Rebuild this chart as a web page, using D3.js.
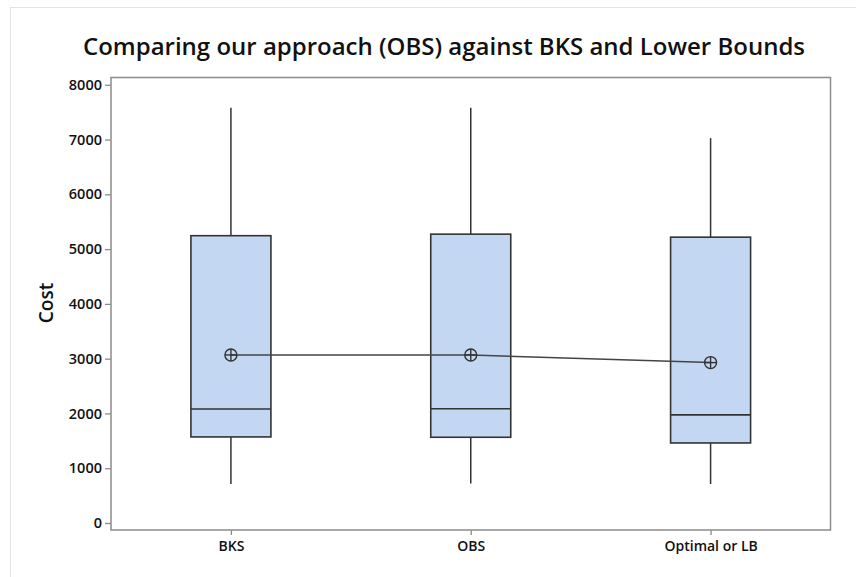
<!DOCTYPE html>
<html>
<head>
<meta charset="utf-8">
<script src="https://cdn.jsdelivr.net/npm/d3@7"></script>
<style>
  body { margin: 0; background: #fff; }
  svg { font-family: "Open Sans", "Noto Sans", sans-serif; }
</style>
</head>
<body>
<div id="container"></div>
<script>
/* DATA */
const categories = ["BKS", "OBS", "Optimal or LB"];
const whiskerLow = [712, 720, 712];
const q1Values = [1571, 1565, 1461];
const medianValues = [2082, 2085, 1973];
const q3Values = [5245, 5273, 5218];
const whiskerHigh = [7580, 7580, 7026];
const meanValues = [3068, 3068, 2928];
const yTicks = [0, 1000, 2000, 3000, 4000, 5000, 6000, 7000, 8000];

const data = categories.map((c, i) => ({
  name: c,
  lo: whiskerLow[i],
  q1: q1Values[i],
  med: medianValues[i],
  q3: q3Values[i],
  hi: whiskerHigh[i],
  mean: meanValues[i]
}));

/* LAYOUT */
const W = 856, H = 577;
const plot = { left: 111, right: 830.5, top: 77.5, bottom: 530 };

const svg = d3.select('#container')
  .append('svg')
  .attr('width', W)
  .attr('height', H);

// outer frame (only top and left edges show)
svg.append('rect')
  .attr('x', 10.5).attr('y', 7.5)
  .attr('width', W).attr('height', H)
  .attr('fill', '#fff')
  .attr('stroke', '#e3e3e3');

const xScale = d3.scalePoint()
  .domain(categories)
  .range([plot.left, plot.right])
  .padding(0.5);

const yScale = d3.scaleLinear()
  .domain([-128, 8133])
  .range([plot.bottom, plot.top]);

const boxW = 80;
const dark = '#333';

// plot frame
svg.append('rect')
  .attr('x', plot.left).attr('y', plot.top)
  .attr('width', plot.right - plot.left)
  .attr('height', plot.bottom - plot.top)
  .attr('fill', '#fff')
  .attr('stroke', '#8c8c8c')
  .attr('stroke-width', 1.5);

// axes
const yAxis = svg.append('g')
  .attr('transform', `translate(${plot.left},0)`)
  .call(d3.axisLeft(yScale).tickValues(yTicks).tickSize(6).tickPadding(3).tickFormat(d3.format('d')));
yAxis.select('.domain').remove();
yAxis.selectAll('line').attr('stroke', '#8c8c8c').attr('stroke-width', 1.3);
yAxis.selectAll('text')
  .attr('fill', '#111')
  .attr('font-size', '14.5px')
  .attr('font-weight', 600)
  .attr('font-family', '"Open Sans", sans-serif');

const xAxis = svg.append('g')
  .attr('transform', `translate(0,${plot.bottom})`)
  .call(d3.axisBottom(xScale).tickSize(5).tickPadding(6));
xAxis.select('.domain').remove();
xAxis.selectAll('line').attr('stroke', '#8c8c8c').attr('stroke-width', 1.3);
xAxis.selectAll('text')
  .attr('fill', '#111')
  .attr('font-size', '14px')
  .attr('font-weight', 600)
  .attr('font-family', '"Open Sans", sans-serif');

// whiskers
const g = svg.append('g');
g.selectAll('line.whisker-hi')
  .data(data)
  .join('line')
  .attr('class', 'whisker-hi')
  .attr('x1', d => xScale(d.name)).attr('x2', d => xScale(d.name))
  .attr('y1', d => yScale(d.q3)).attr('y2', d => yScale(d.hi))
  .attr('stroke', dark).attr('stroke-width', 1.5);

g.selectAll('line.whisker-lo')
  .data(data)
  .join('line')
  .attr('class', 'whisker-lo')
  .attr('x1', d => xScale(d.name)).attr('x2', d => xScale(d.name))
  .attr('y1', d => yScale(d.q1)).attr('y2', d => yScale(d.lo))
  .attr('stroke', dark).attr('stroke-width', 1.5);

// boxes
g.selectAll('rect.box')
  .data(data)
  .join('rect')
  .attr('class', 'box')
  .attr('x', d => xScale(d.name) - boxW / 2)
  .attr('width', boxW)
  .attr('y', d => yScale(d.q3))
  .attr('height', d => yScale(d.q1) - yScale(d.q3))
  .attr('fill', '#c3d6f2')
  .attr('stroke', dark)
  .attr('stroke-width', 1.6);

g.selectAll('line.median')
  .data(data)
  .join('line')
  .attr('class', 'median')
  .attr('x1', d => xScale(d.name) - boxW / 2)
  .attr('x2', d => xScale(d.name) + boxW / 2)
  .attr('y1', d => yScale(d.med)).attr('y2', d => yScale(d.med))
  .attr('stroke', dark).attr('stroke-width', 1.6);

// mean connect line
const meanLine = d3.line()
  .x(d => xScale(d.name))
  .y(d => yScale(d.mean));
g.append('path')
  .datum(data)
  .attr('d', meanLine)
  .attr('fill', 'none')
  .attr('stroke', '#444')
  .attr('stroke-width', 1.5);

// mean symbols (circle with cross)
const r = 6;
const means = g.selectAll('g.mean')
  .data(data)
  .join('g')
  .attr('class', 'mean')
  .attr('transform', d => `translate(${xScale(d.name)},${yScale(d.mean)})`);
means.append('circle')
  .attr('r', r)
  .attr('fill', 'none')
  .attr('stroke', dark)
  .attr('stroke-width', 1.4);
means.append('line')
  .attr('x1', -r).attr('x2', r)
  .attr('stroke', dark).attr('stroke-width', 1.4);
means.append('line')
  .attr('y1', -r).attr('y2', r)
  .attr('stroke', dark).attr('stroke-width', 1.4);

// y-axis label
svg.append('text')
  .attr('transform', `translate(53,303) rotate(-90)`)
  .attr('text-anchor', 'middle')
  .attr('font-size', '19px')
  .attr('font-weight', 600)
  .attr('fill', '#111')
  .text('Cost');

// title
svg.append('text')
  .attr('x', 444)
  .attr('y', 55)
  .attr('text-anchor', 'middle')
  .attr('font-size', '24px')
  .attr('font-weight', 600)
  .attr('fill', '#111')
  .text('Comparing our approach (OBS) against BKS and Lower Bounds');
</script>
</body>
</html>
